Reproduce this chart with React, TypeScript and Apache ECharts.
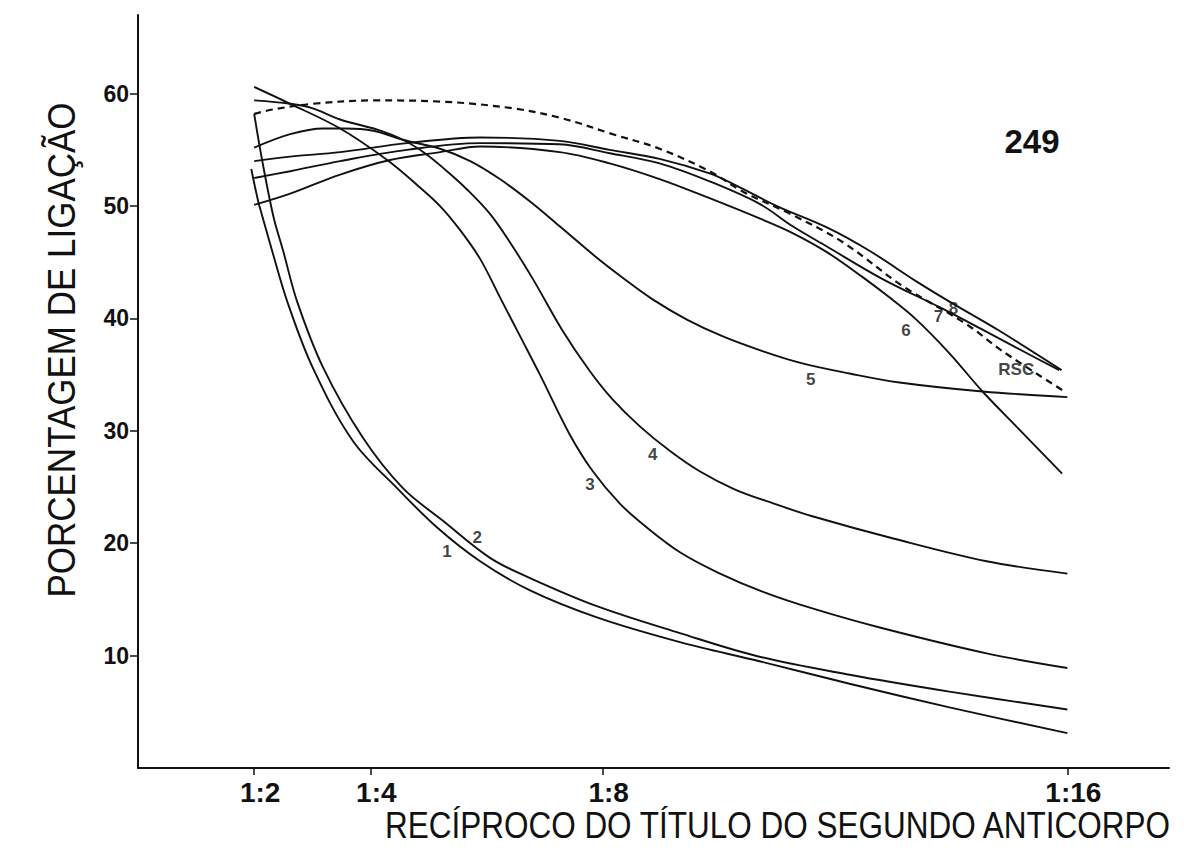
import React, { useEffect, useRef } from "react";
import * as echarts from "echarts";

// Tick positions (reciprocal of the second antibody titre) and y ticks
const xTicks = [2, 4, 8, 16];
const yTicks = [10, 20, 30, 40, 50, 60];

// Curves: [reciprocal titre, % binding]
const curve1 = [[1.95,53.3],[2.07,50.4],[2.14,49.1],[2.31,46.0],[2.57,41.5],[3.01,35.6],[3.70,29.1],[4.46,24.9],[5.15,21.4],[5.89,18.4],[6.75,15.8],[7.90,13.4],[9.33,11.2],[10.70,9.5],[12.25,7.5],[13.97,5.4],[16.0,3.1]];
const curve2 = [[2.0,58.2],[2.14,54.0],[2.33,49.1],[2.50,46.0],[2.74,41.5],[3.19,35.6],[3.87,29.4],[4.56,24.9],[5.25,22.0],[6.06,18.7],[6.75,16.9],[7.90,14.4],[9.33,12.0],[10.70,9.9],[12.25,8.3],[13.97,6.8],[16.0,5.2]];
const curve3 = [[2.0,60.6],[2.62,59.1],[3.48,56.9],[4.29,54.1],[4.80,51.9],[5.20,50.0],[5.54,47.9],[5.89,45.3],[6.23,41.9],[6.58,38.4],[6.92,35.0],[7.43,29.7],[7.83,26.4],[8.30,23.5],[8.76,21.4],[9.33,19.2],[10.02,17.3],[10.75,15.7],[11.61,14.2],[12.77,12.5],[14.61,10.2],[16.0,8.9]];
const curve4 = [[2.0,59.4],[2.62,59.1],[3.01,58.7],[3.48,57.7],[4.12,56.8],[4.56,55.9],[4.94,54.7],[5.32,53.1],[5.66,51.5],[6.06,49.3],[6.40,46.8],[6.80,43.5],[7.31,38.9],[7.78,35.3],[8.17,32.8],[8.64,30.4],[9.16,28.2],[9.67,26.4],[10.27,24.8],[10.96,23.5],[11.61,22.4],[13.02,20.4],[14.61,18.4],[16.0,17.3]];
const curve5 = [[2.0,55.2],[2.62,56.4],[3.19,56.9],[3.57,56.9],[4.05,56.7],[4.56,55.9],[5.20,55.1],[5.72,54.0],[6.23,52.4],[6.75,50.4],[7.26,48.2],[7.90,45.4],[8.35,43.6],[8.86,41.7],[9.45,39.9],[10.07,38.4],[10.75,37.1],[11.44,36.0],[12.25,35.1],[13.11,34.3],[14.54,33.5],[16.0,33.0]];
const curve6 = [[2.0,50.1],[2.62,51.1],[3.48,52.8],[4.34,54.1],[5.20,54.8],[5.89,55.3],[7.26,54.8],[8.12,53.8],[8.98,52.4],[9.84,50.7],[10.70,48.9],[11.27,47.6],[11.86,45.9],[12.47,43.7],[12.93,41.9],[13.40,39.9],[13.97,36.9],[14.54,33.5],[15.12,30.4],[15.91,26.2]];
const curve7 = [[2.0,52.5],[2.62,53.1],[3.48,54.0],[4.63,55.0],[5.89,55.6],[7.26,55.5],[8.12,54.7],[8.98,53.8],[9.84,52.2],[10.70,50.2],[11.27,48.2],[11.86,46.4],[12.82,43.5],[13.80,41.0],[14.54,39.0],[15.12,37.4],[15.86,35.4]];
const curve8 = [[2.0,54.0],[2.62,54.4],[3.48,54.8],[4.63,55.6],[5.89,56.1],[7.26,55.8],[8.12,55.0],[8.98,54.2],[9.84,52.9],[10.31,51.8],[11.0,50.0],[11.86,48.1],[12.6,46.0],[13.40,43.3],[13.97,41.5],[14.83,38.9],[15.9,35.4]];
const curveRSC = [[2.0,58.2],[2.33,58.6],[3.01,59.1],[4.05,59.4],[5.20,59.3],[6.45,58.7],[7.31,57.8],[8.17,56.4],[8.98,55.1],[9.84,53.1],[10.41,51.3],[11.27,49.2],[12.13,46.8],[13.16,42.9],[14.26,39.5],[14.88,37.1],[15.95,33.5]];

// Curve labels anchored in data coordinates
const curveLabels = [
  [5.32, 19.3, "1"],
  [5.84, 20.5, "2"],
  [7.78, 25.2, "3"],
  [8.86, 27.9, "4"],
  [11.58, 34.6, "5"],
  [13.22, 38.9, "6"],
  [13.78, 40.2, "7"],
  [14.04, 40.9, "8"],
  [15.12, 35.5, "RSC"],
];

const panelLabel = "249";
const xTitle = "RECÍPROCO DO TÍTULO DO SEGUNDO ANTICORPO";
const yTitle = "PORCENTAGEM DE LIGAÇÃO";

export default function App() {
  const ref = useRef<HTMLDivElement>(null);
  useEffect(() => {
    const chart = echarts.init(ref.current!, null, { renderer: "svg" });
    const sans = "'Liberation Sans',Arial,Helvetica,sans-serif";
    const ink = "#111";
    const mk = (name: string, data: number[][], dashed = false) => ({
      type: "line",
      name,
      data,
      smooth: 0.35,
      symbol: "none",
      silent: true,
      lineStyle: { color: ink, width: dashed ? 2.2 : 1.9, type: dashed ? [7, 5] : "solid" },
      z: 2,
    });
    chart.setOption({
      animation: false,
      backgroundColor: "#ffffff",
      grid: { left: 138, right: 15, top: 15, bottom: 89 },
      xAxis: {
        type: "value",
        min: 0,
        max: 17.75,
        splitLine: { show: false },
        axisLine: { show: true, onZero: false, lineStyle: { color: ink, width: 2 } },
        axisTick: { show: true, customValues: xTicks, length: 7, lineStyle: { color: ink, width: 1.5 } },
        axisLabel: {
          customValues: xTicks,
          formatter: (v: number) => "1:" + v,
          fontSize: 28,
          fontWeight: "bold",
          lineHeight: 24,
          color: ink,
          fontFamily: sans,
          margin: 12,
          padding: [0, 0, 0, 12],
        },
      },
      yAxis: {
        type: "value",
        min: 0,
        max: 67,
        splitLine: { show: false },
        axisLine: { show: true, onZero: false, lineStyle: { color: ink, width: 2 } },
        axisTick: { show: true, customValues: yTicks, length: 8, lineStyle: { color: ink, width: 1.5 } },
        axisLabel: {
          customValues: yTicks,
          fontSize: 23,
          fontWeight: "bold",
          color: ink,
          fontFamily: sans,
          margin: 9,
        },
      },
      series: [
        mk("1", curve1),
        mk("2", curve2),
        mk("3", curve3),
        mk("4", curve4),
        mk("5", curve5),
        mk("6", curve6),
        mk("7", curve7),
        mk("8", curve8),
        mk("RSC", curveRSC, true),
        {
          type: "scatter",
          data: curveLabels,
          symbolSize: 1,
          itemStyle: { color: "rgba(0,0,0,0)" },
          silent: true,
          z: 5,
          label: {
            show: true,
            position: "inside",
            formatter: (p: any) => p.value[2],
            fontSize: 17,
            fontWeight: "bold",
            color: ink,
            fontFamily: sans,
          },
        },
      ],
      graphic: [
        {
          type: "text",
          x: 1032,
          y: 141,
          style: { text: panelLabel, fill: ink, font: `bold 33px ${sans}`, align: "center", verticalAlign: "middle" },
        },
        {
          type: "text",
          x: 1170,
          y: 825,
          scaleY: 1.15,
          style: { text: xTitle, fill: ink, font: `31.5px ${sans}`, lineHeight: 26, align: "right", verticalAlign: "middle" },
        },
        {
          type: "text",
          x: 62,
          y: 350,
          rotation: Math.PI / 2,
          scaleY: 1.1,
          style: { text: yTitle, fill: ink, font: `35px ${sans}`, align: "center", verticalAlign: "middle" },
        },
      ],
    });
    return () => chart.dispose();
  }, []);
  return (
    <div
      ref={ref}
      style={{ position: "fixed", left: 0, top: 0, width: 1184, height: 857, background: "#fff" }}
    />
  );
}
